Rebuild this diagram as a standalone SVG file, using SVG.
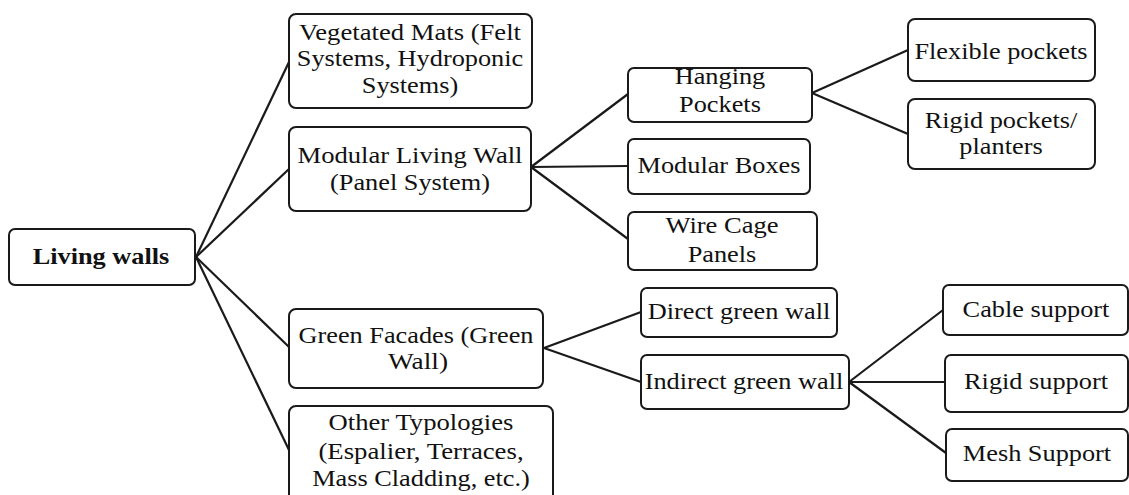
<svg xmlns="http://www.w3.org/2000/svg" width="1129" height="495" viewBox="0 0 1129 495">
<style>
.box{fill:#fff;stroke:#1a1a1a;stroke-width:2}
text{font-family:'Liberation Serif','DejaVu Serif',serif;font-stretch:condensed;font-size:23px;fill:#111;text-anchor:middle}
.b{font-weight:bold}
.c{stroke:#1a1a1a;stroke-width:2.2;fill:none}
</style>
<rect width="1129" height="495" fill="#fff"/>
<g id="connectors">
<line class="c" x1="196" y1="257" x2="289" y2="62"/>
<line class="c" x1="196" y1="257" x2="289" y2="169"/>
<line class="c" x1="196" y1="257" x2="289" y2="347"/>
<line class="c" x1="196" y1="257" x2="289" y2="450"/>
<line class="c" x1="531" y1="167" x2="628" y2="94"/>
<line class="c" x1="531" y1="167" x2="628" y2="166"/>
<line class="c" x1="531" y1="167" x2="628" y2="239"/>
<line class="c" x1="812" y1="93" x2="908" y2="50"/>
<line class="c" x1="812" y1="93" x2="908" y2="134"/>
<line class="c" x1="544" y1="348" x2="641" y2="312"/>
<line class="c" x1="544" y1="348" x2="641" y2="382"/>
<line class="c" x1="849" y1="382" x2="943" y2="310"/>
<line class="c" x1="849" y1="382" x2="945" y2="382"/>
<line class="c" x1="849" y1="382" x2="946" y2="453"/>
</g>
<g id="living-walls">
<rect class="box" x="9" y="229" width="186" height="56" rx="6"/>
<text class="b" x="101" y="264" textLength="136.7" lengthAdjust="spacingAndGlyphs">Living walls</text>
</g>
<g id="vegetated-mats">
<rect class="box" x="289" y="14" width="243" height="94" rx="7"/>
<text x="410" y="40" textLength="222" lengthAdjust="spacingAndGlyphs">Vegetated Mats (Felt</text>
<text x="410" y="66" textLength="226.5" lengthAdjust="spacingAndGlyphs">Systems, Hydroponic</text>
<text x="410" y="93" textLength="96.4" lengthAdjust="spacingAndGlyphs">Systems)</text>
</g>
<g id="modular-living-wall">
<rect class="box" x="289" y="127" width="242" height="84" rx="7"/>
<text x="410" y="163" textLength="225" lengthAdjust="spacingAndGlyphs">Modular Living Wall</text>
<text x="410" y="190" textLength="160" lengthAdjust="spacingAndGlyphs">(Panel System)</text>
</g>
<g id="green-facades">
<rect class="box" x="289" y="309" width="254" height="79" rx="7"/>
<text x="416" y="343" textLength="235" lengthAdjust="spacingAndGlyphs">Green Facades (Green</text>
<text x="418" y="369" textLength="60" lengthAdjust="spacingAndGlyphs">Wall)</text>
</g>
<g id="other-typologies">
<rect class="box" x="289" y="406" width="264" height="100" rx="7"/>
<text x="421" y="430" textLength="184.8" lengthAdjust="spacingAndGlyphs">Other Typologies</text>
<text x="421" y="459" textLength="205.2" lengthAdjust="spacingAndGlyphs">(Espalier, Terraces,</text>
<text x="421" y="486" textLength="217.7" lengthAdjust="spacingAndGlyphs">Mass Cladding, etc.)</text>
</g>
<g id="hanging-pockets">
<rect class="box" x="628" y="68" width="184" height="54" rx="6"/>
<text x="720" y="84" textLength="90.6" lengthAdjust="spacingAndGlyphs">Hanging</text>
<text x="720" y="112" textLength="81.8" lengthAdjust="spacingAndGlyphs">Pockets</text>
</g>
<g id="modular-boxes">
<rect class="box" x="628" y="139" width="182" height="55" rx="6"/>
<text x="719" y="173" textLength="162.9" lengthAdjust="spacingAndGlyphs">Modular Boxes</text>
</g>
<g id="wire-cage-panels">
<rect class="box" x="628" y="212" width="189" height="58" rx="6"/>
<text x="722" y="233" textLength="113.2" lengthAdjust="spacingAndGlyphs">Wire Cage</text>
<text x="722" y="262" textLength="68.7" lengthAdjust="spacingAndGlyphs">Panels</text>
</g>
<g id="flexible-pockets">
<rect class="box" x="908" y="19" width="187" height="62" rx="7"/>
<text x="1001" y="59" textLength="173.1" lengthAdjust="spacingAndGlyphs">Flexible pockets</text>
</g>
<g id="rigid-pockets">
<rect class="box" x="908" y="99" width="187" height="70" rx="7"/>
<text x="1001" y="128" textLength="152.7" lengthAdjust="spacingAndGlyphs">Rigid pockets/</text>
<text x="1001" y="154" textLength="83.3" lengthAdjust="spacingAndGlyphs">planters</text>
</g>
<g id="direct-green-wall">
<rect class="box" x="641" y="288" width="196" height="49" rx="6"/>
<text x="739" y="319" textLength="182.6" lengthAdjust="spacingAndGlyphs">Direct green wall</text>
</g>
<g id="indirect-green-wall">
<rect class="box" x="641" y="355" width="208" height="54" rx="6"/>
<text x="744" y="389" textLength="198.6" lengthAdjust="spacingAndGlyphs">Indirect green wall</text>
</g>
<g id="cable-support">
<rect class="box" x="943" y="285" width="185" height="50" rx="6"/>
<text x="1036" y="317" textLength="146.8" lengthAdjust="spacingAndGlyphs">Cable support</text>
</g>
<g id="rigid-support">
<rect class="box" x="945" y="355" width="183" height="57" rx="6"/>
<text x="1036" y="389" textLength="143.9" lengthAdjust="spacingAndGlyphs">Rigid support</text>
</g>
<g id="mesh-support">
<rect class="box" x="946" y="429" width="182" height="52" rx="6"/>
<text x="1037" y="461" textLength="148.3" lengthAdjust="spacingAndGlyphs">Mesh Support</text>
</g>
</svg>
